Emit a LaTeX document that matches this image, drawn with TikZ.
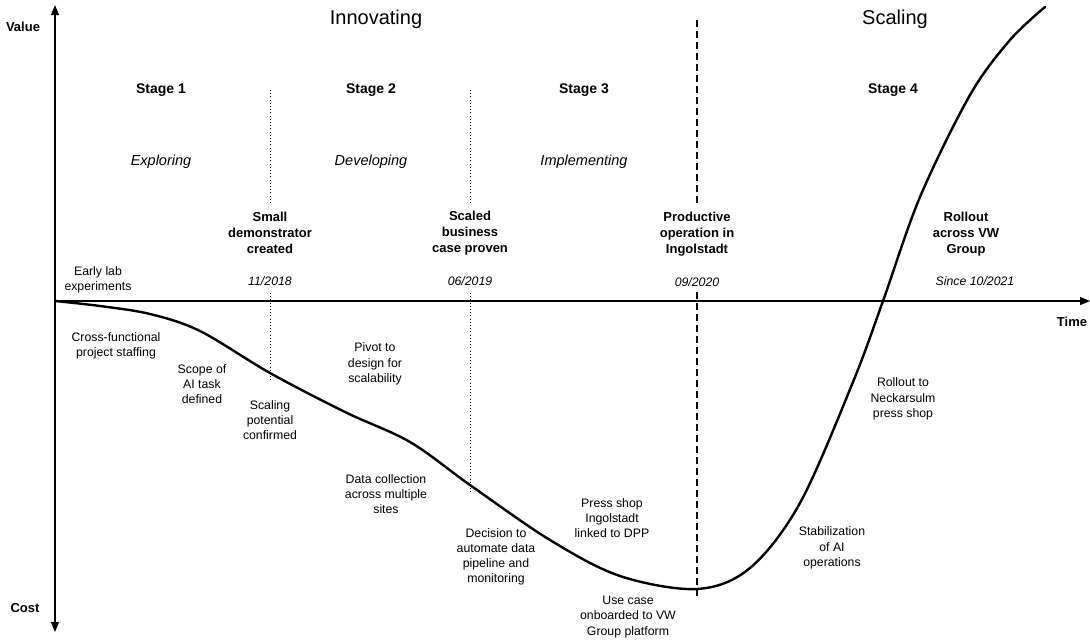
\documentclass[tikz,border=0pt]{standalone}
\usepackage{fontspec}
\setmainfont{Liberation Sans}
\usetikzlibrary{arrows.meta}
\begin{document}
\begin{tikzpicture}[x=1pt,y=-1pt,
  axis/.style={line width=1.2pt,-{Triangle[length=10pt,width=8pt]}},
  curve/.style={line width=2.4pt,line cap=round},
  dotline/.style={line width=1pt,dotted,dash pattern=on 1pt off 2.2pt},
  dashline/.style={line width=1.2pt,dash pattern=on 7pt off 4pt},
  phase/.style={font=\fontsize{20}{24}\selectfont},
  stagelbl/.style={font=\bfseries\fontsize{14}{17}\selectfont},
  modelbl/.style={font=\itshape\fontsize{14.5}{17}\selectfont},
  mile/.style={align=center,font=\bfseries\fontsize{13}{16}\selectfont},
  datelbl/.style={font=\itshape\fontsize{12.3}{14}\selectfont},
  note/.style={align=center,font=\fontsize{12.3}{15.2}\selectfont},
  axlbl/.style={font=\bfseries\fontsize{13}{16}\selectfont}]
\useasboundingbox (0,0) rectangle (1090,643);

% axes
\coordinate (o) at (55,301);
\coordinate (vtop) at (55,5);
\coordinate (vbot) at (55,632);
\coordinate (hend) at (1090,301);
\draw[axis] (o) -- (vtop);
\draw[axis] (o) -- (vbot);
\draw[axis] (o) -- (hend);
\node[axlbl] (value) at (23,27) {Value};
\node[axlbl] (cost) at (25,608) {Cost};
\node[axlbl] (time) at (1072,322) {Time};

% phases, stages and their modes
\node[phase] (innov) at (376,19) {Innovating};
\node[phase] (scal) at (895,19) {Scaling};
\node[stagelbl] (s1) at (161,90) {Stage 1};
\node[stagelbl] (s2) at (371,90) {Stage 2};
\node[stagelbl] (s3) at (584,90) {Stage 3};
\node[stagelbl] (s4) at (893,90) {Stage 4};
\node[modelbl] (m1) at (161,162) {Exploring};
\node[modelbl] (m2) at (371,162) {Developing};
\node[modelbl] (m3) at (584,162) {Implementing};

% milestones
\node[mile] (ms1) at (270,233) {Small\\demonstrator\\created};
\node[mile] (ms2) at (470,233) {Scaled\\business\\case proven};
\node[mile] (ms3) at (697,234) {Productive\\operation in\\Ingolstadt};
\node[mile] (ms4) at (966,234) {Rollout\\across VW\\Group};
\node[datelbl] (d1) at (270,281) {11/2018};
\node[datelbl] (d2) at (470,281) {06/2019};
\node[datelbl] (d3) at (697,282) {09/2020};
\node[datelbl] (d4) at (975,281) {Since 10/2021};

% milestone markers
\coordinate (a1) at (270,90);  \coordinate (b1) at (270,203);
\coordinate (c1) at (270,293); \coordinate (e1) at (270,381);
\coordinate (a2) at (470,90);  \coordinate (b2) at (470,203);
\coordinate (c2) at (470,293); \coordinate (e2) at (470,492);
\coordinate (a3) at (697,20);  \coordinate (b3) at (697,203);
\coordinate (c3) at (697,292); \coordinate (e3) at (697,596);
\draw[dotline] (a1) -- (b1);
\draw[dotline] (c1) -- (e1);
\draw[dotline] (a2) -- (b2);
\draw[dotline] (c2) -- (e2);
\draw[dashline] (a3) -- (b3);
\draw[dashline] (c3) -- (e3);

% value curve
\draw[curve] plot[smooth,tension=0.55] coordinates {
  (55,301) (100,306) (150,314) (200,331) (270,373) (345,412) (410,442)
  (470,485) (550,540) (620,576) (697,589) (750,568) (800,503)
  (853,382) (883,301) (920,197) (970,95) (1010,40) (1045,7)};

% events along the curve
\node[note] (n1) at (98,280) {Early lab\\experiments};
\node[note] (n2) at (116,346) {Cross-functional\\project staffing};
\node[note] (n3) at (202,384) {Scope of\\AI task\\defined};
\node[note] (n4) at (270,420) {Scaling\\potential\\confirmed};
\node[note] (n5) at (375,364) {Pivot to\\design for\\scalability};
\node[note] (n6) at (386,494) {Data collection\\across multiple\\sites};
\node[note] (n7) at (496,557) {Decision to\\automate data\\pipeline and\\monitoring};
\node[note] (n8) at (612,518) {Press shop\\Ingolstadt\\linked to DPP};
\node[note] (n9) at (628,617) {Use case\\onboarded to VW\\Group platform};
\node[note] (n10) at (903,399) {Rollout to\\Neckarsulm\\press shop};
\node[note] (n11) at (832,548) {Stabilization\\of AI\\operations};
\end{tikzpicture}
\end{document}
